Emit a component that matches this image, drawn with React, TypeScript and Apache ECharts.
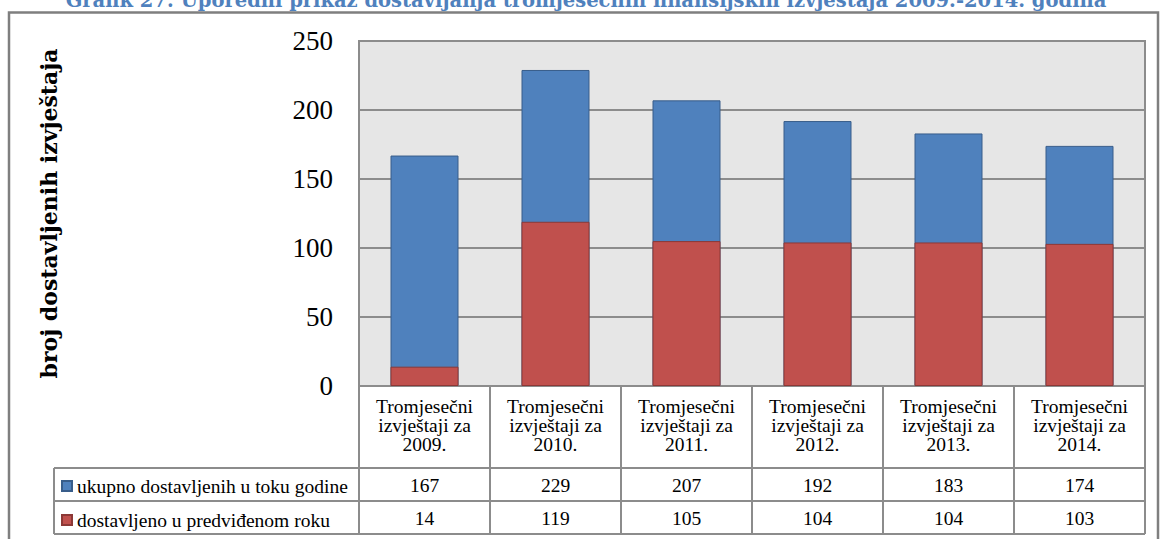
import React, { useEffect, useRef } from "react";
import * as echarts from "echarts";

const categories = [
  "Tromjesečni\nizvještaji za\n2009.",
  "Tromjesečni\nizvještaji za\n2010.",
  "Tromjesečni\nizvještaji za\n2011.",
  "Tromjesečni\nizvještaji za\n2012.",
  "Tromjesečni\nizvještaji za\n2013.",
  "Tromjesečni\nizvještaji za\n2014.",
];
const totalName = "ukupno dostavljenih u toku godine";
const onTimeName = "dostavljeno u predviđenom roku";
const totalValues = [167, 229, 207, 192, 183, 174];
const onTimeValues = [14, 119, 105, 104, 104, 103];
const yTicks = { min: 0, max: 250, interval: 50 };
const yTitle = "broj dostavljenih izvještaja";
const chartTitle =
  "Grafik 27: Uporedni prikaz dostavljanja tromjesečnih finansijskih izvještaja 2009.-2014. godina";

const W = 1163;
const H = 539;
const PLOT = { left: 359, right: 1145, top: 41, bottom: 386 };
const ROW1 = 468;
const ROW2 = 501;
const ROW3 = 534;
const TABLE_LEFT = 54;
const LINE = "#8c8c8c";
const FONT = "Liberation Serif";

export default function App() {
  const ref = useRef<HTMLDivElement>(null);
  useEffect(() => {
    if (!ref.current) return;
    const chart = echarts.init(ref.current, null, { renderer: "svg" });
    const lineStyle = { stroke: LINE, lineWidth: 2 };
    const cellText = { fontFamily: FONT, fontSize: 19.5, lineHeight: 19, color: "#000" };
    chart.setOption({
      animation: false,
      backgroundColor: "#ffffff",
      grid: {
        left: PLOT.left,
        right: W - PLOT.right,
        top: PLOT.top,
        bottom: H - PLOT.bottom,
        show: true,
        backgroundColor: "#e6e6e6",
        borderColor: LINE,
        borderWidth: 2,
      },
      legend: {
        orient: "vertical",
        left: 61,
        top: 476,
        padding: 0,
        itemWidth: 10,
        itemHeight: 10,
        itemGap: 14,
        icon: "rect",
        textStyle: cellText,
        data: [totalName, onTimeName],
      },
      xAxis: [
        {
          type: "category",
          data: categories,
          position: "bottom",
          axisLine: { show: true, lineStyle: { color: LINE, width: 2 } },
          axisTick: { show: true, length: ROW3 - PLOT.bottom, lineStyle: { color: LINE, width: 2 } },
          axisLabel: { ...cellText, margin: 11, interval: 0 },
        },
        {
          type: "category",
          data: totalValues.map(String),
          position: "bottom",
          offset: 80,
          axisLine: { show: false },
          axisTick: { show: false },
          axisLabel: { ...cellText, margin: 10, interval: 0 },
        },
        {
          type: "category",
          data: onTimeValues.map(String),
          position: "bottom",
          offset: 113,
          axisLine: { show: false },
          axisTick: { show: false },
          axisLabel: { ...cellText, margin: 10, interval: 0 },
        },
      ],
      yAxis: {
        type: "value",
        min: yTicks.min,
        max: yTicks.max,
        interval: yTicks.interval,
        name: yTitle,
        nameLocation: "middle",
        nameRotate: 90,
        nameGap: 299,
        nameTextStyle: { fontFamily: "DejaVu Serif", fontWeight: "bold", fontSize: 22, color: "#000" },
        axisLine: { show: false },
        axisTick: { show: false },
        axisLabel: { fontFamily: FONT, fontSize: 27, color: "#000", margin: 26 },
        splitLine: { show: true, lineStyle: { color: LINE, width: 2 } },
      },
      series: [
        {
          name: totalName,
          type: "bar",
          data: totalValues,
          barWidth: 68,
          itemStyle: { color: "#4f81bd", borderColor: "#385d8a", borderWidth: 1 },
        },
        {
          name: onTimeName,
          type: "bar",
          data: onTimeValues,
          barWidth: 68,
          barGap: "-100%",
          itemStyle: { color: "#c0504d", borderColor: "#8c3836", borderWidth: 1 },
        },
      ],
      graphic: [
        {
          type: "rect",
          shape: { x: 9, y: 12.5, width: 1149, height: 560 },
          style: { fill: "none", stroke: "#7f7f7f", lineWidth: 2.5 },
          silent: true,
        },
        {
          type: "text",
          x: 586,
          y: 0,
          style: {
            text: chartTitle,
            fontFamily: "DejaVu Serif",
            fontWeight: "bold",
            fontSize: 19.5,
            fill: "#4f81bd",
            align: "center",
            verticalAlign: "middle",
          },
        },
        { type: "line", shape: { x1: TABLE_LEFT, y1: ROW1, x2: PLOT.right, y2: ROW1 }, style: lineStyle },
        { type: "line", shape: { x1: TABLE_LEFT, y1: ROW2, x2: PLOT.right, y2: ROW2 }, style: lineStyle },
        { type: "line", shape: { x1: TABLE_LEFT, y1: ROW3, x2: PLOT.right, y2: ROW3 }, style: lineStyle },
        { type: "line", shape: { x1: TABLE_LEFT, y1: ROW1, x2: TABLE_LEFT, y2: ROW3 }, style: lineStyle },
      ],
    });
    return () => chart.dispose();
  }, []);
  return (
    <div
      ref={ref}
      style={{ position: "absolute", left: 0, top: 0, width: W, height: H }}
    />
  );
}
